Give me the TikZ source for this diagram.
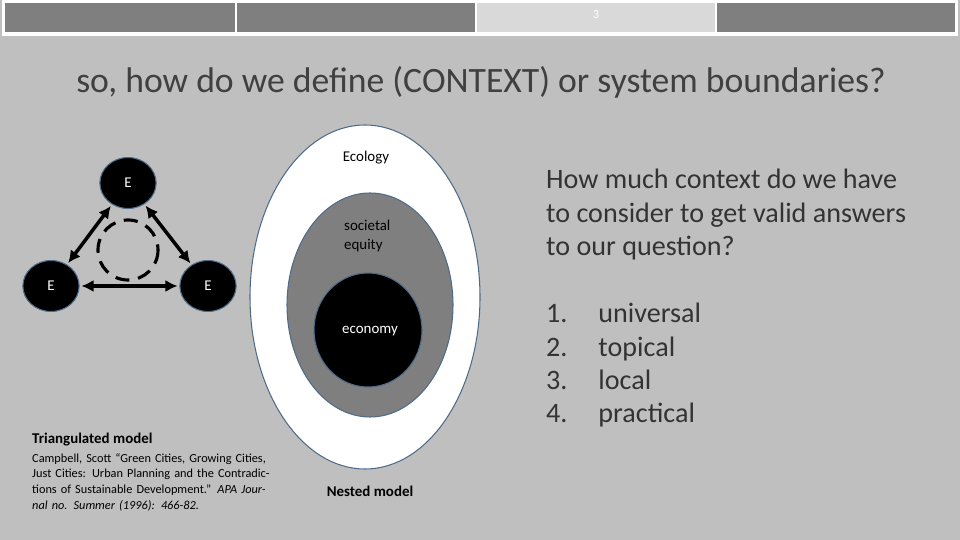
\documentclass[tikz,border=0pt]{standalone}
\usepackage{fontspec}
\setmainfont{Carlito}
\usetikzlibrary{arrows.meta,shapes.geometric}
\definecolor{slidebg}{HTML}{BFBFBF}
\definecolor{bardark}{HTML}{7F7F7F}
\definecolor{barlight}{HTML}{D9D9D9}
\definecolor{rim}{HTML}{4F6B8A}
\begin{document}
\begin{tikzpicture}[x=0.02cm,y=-0.02cm,
        tab/.style={fill=bardark, draw=white, line width=1.2pt},
        enode/.style={ellipse, fill=black, draw=rim, line width=0.6pt, minimum width=32pt, minimum height=29pt, inner sep=0pt, text=white, font=\fontsize{8.5}{9}\selectfont},
        link/.style={{Latex[length=7pt,width=7pt]}-{Latex[length=7pt,width=7pt]}, line width=2pt, shorten <=1pt, shorten >=1pt},
        every node/.style={align=left}
    ]
        % Slide background and bounding box
        \fill[slidebg] (0,0) rectangle (960,540);
        \useasboundingbox (0,0) rectangle (960,540);
        \fill[white] (2,0) rectangle (958,36);

        % Tabs along the top
        \draw[tab] (4,2) rectangle (236,33);
        \draw[tab] (236,2) rectangle (476,33);
        \draw[tab, fill=barlight] (476,2) rectangle (716,33);
        \draw[tab] (716,2) rectangle (956,33);
        \node[text=white, font=\fontsize{7}{8}\selectfont] (pg) at (596,15) {3};

        % Title
        \node[text=black!75, font=\fontsize{20.3}{22}\selectfont] (title) at (481,82) {so, how do we define (CONTEXT) or system boundaries?};

        % Triangulated model
        \node[enode] (etop) at (128,183) {E};
        \node[enode] (eleft) at (51,286) {E};
        \node[enode] (eright) at (208,286) {E};
        \draw[line width=1.8pt, dash pattern=on 8pt off 5pt] (128,250) circle (30);
        \draw[link] (etop) -- (eleft);
        \draw[link] (etop) -- (eright);
        \draw[link] (eleft) -- (eright);

        \node[anchor=north west, font=\bfseries\fontsize{8.5}{10}\selectfont] (tri) at (26,427) {Triangulated model};
        \node[anchor=north west, font=\fontsize{7}{9}\selectfont, text width=4.9cm, align=left] (cite) at (26,447)
            {Campbell, Scott “Green Cities, Growing Cities, Just Cities: Urban Planning and the Contradictions of Sustainable Development.” \textit{APA Journal no. Summer (1996): 466-82.}};

        % Nested model
        \draw[rim, fill=white, line width=0.6pt] (365,297) ellipse (115 and 172);
        \draw[rim, fill=bardark, line width=0.6pt] (370,305) ellipse (83 and 112);
        \draw[rim, fill=black, line width=0.6pt] (368,330) ellipse (54 and 57);
        \node[font=\fontsize{8.5}{10}\selectfont] (eco) at (366,158) {Ecology};
        \node[anchor=west, font=\fontsize{8.5}{11}\selectfont] (soc) at (338,236) {societal\\equity};
        \node[text=white, font=\fontsize{8.5}{10}\selectfont] (econ) at (370,331) {economy};
        \node[font=\bfseries\fontsize{8.5}{10}\selectfont] (nest) at (370,491) {Nested model};

        % Question and list
        \node[anchor=north west, text=black!80, font=\fontsize{16}{19}\selectfont] (q) at (540,163)
            {How much context do we have\\to consider to get valid answers\\to our question?};
        \node[anchor=north west, text=black!80, font=\fontsize{16}{19}\selectfont] (list) at (540,297)
            {1.\hspace{1.1em}universal\\2.\hspace{1.1em}topical\\3.\hspace{1.1em}local\\4.\hspace{1.1em}practical};
    \end{tikzpicture}
\end{document}
